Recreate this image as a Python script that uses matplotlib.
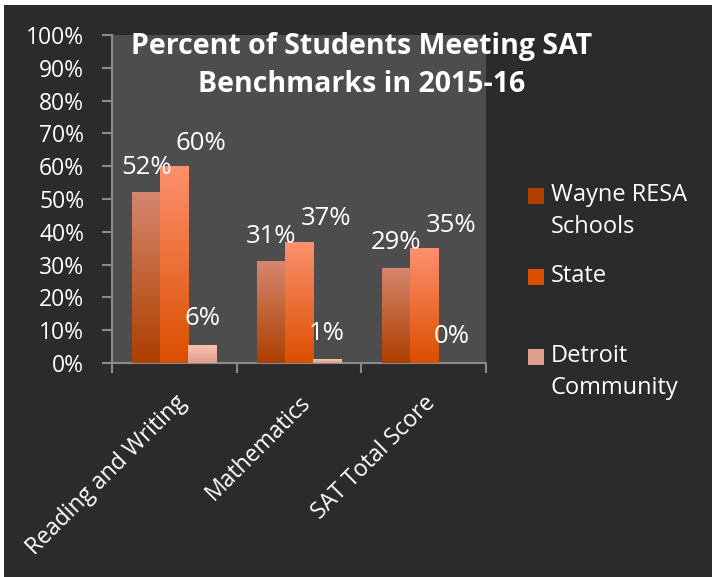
import numpy as np
import matplotlib
matplotlib.use('Agg')
import matplotlib.pyplot as plt
from matplotlib.colors import LinearSegmentedColormap
from matplotlib.patches import Rectangle

plt.rcParams['font.family'] = ['Open Sans', 'DejaVu Sans']

# data
categories = ['Reading and Writing', 'Mathematics', 'SAT Total Score']
series_names = ['Wayne RESA\nSchools', 'State', 'Detroit\nCommunity']
wayne = [52, 31, 29]
state = [60, 37, 35]
detroit = [5.5, 1.2, 0]
detroit_labels = ['6%', '1%', '0%']
yticks = list(range(0, 101, 10))

# gradient colours (top, bottom) for each series
grads = [('#d5866e', '#ae3f00'), ('#fd906e', '#db4f00'), ('#f9c3b3', '#df9e8c')]
label_offsets = [(0, 25), (27, 23), (0, 26)]

fig = plt.figure(figsize=(7.12, 5.77), dpi=100)
fig.patch.set_facecolor('#2b2b2b')
ax = fig.add_axes([0.1573, 0.3709, 0.5253, 0.5684])
ax.set_facecolor('#4d4d4d')

x = np.arange(len(categories))
w = 0.225
all_series = [wayne, state, detroit]
labels_all = [[f'{v}%' for v in wayne], [f'{v}%' for v in state], detroit_labels]

for i, vals in enumerate(all_series):
    pos = x + (i - 1) * w
    bars = ax.bar(pos, vals, width=w, color=grads[i][1], zorder=2)
    cmap = LinearSegmentedColormap.from_list('g%d' % i, [grads[i][1], grads[i][0]])
    for b in bars:
        bx, by, bw, bh = b.get_x(), b.get_y(), b.get_width(), b.get_height()
        if bh <= 0:
            continue
        grad = np.linspace(0, 1, 100).reshape(-1, 1)
        im = ax.imshow(grad, cmap=cmap, origin='lower', aspect='auto',
                       extent=(bx, bx + bw, by, by + bh), zorder=3)
        im.set_clip_path(b)
    for p, v, lab in zip(pos, vals, labels_all[i]):
        ax.annotate(lab, (p, v), xytext=label_offsets[i], textcoords='offset pixels',
                    ha='center', va='center', color='white', fontsize=18.5, zorder=5)

ax.set_xlim(-0.5, 2.5)
ax.set_ylim(0, 100)
ax.set_yticks(yticks)
ax.set_yticklabels([f'{t}%' for t in yticks])
ax.set_xticks(x)
ax.set_xticklabels(categories, rotation=45, ha='right', rotation_mode='anchor')
ax.set_xticks([-0.5, 0.5, 1.5, 2.5], minor=True)
ax.tick_params(axis='x', which='major', length=0, pad=20, labelsize=16.5, labelcolor='white')
ax.tick_params(axis='x', which='minor', length=7, width=1.5, color='#8a8a8a')
ax.tick_params(axis='y', length=7, width=1.5, color='#8a8a8a', pad=13,
               labelsize=16.5, labelcolor='white')
for s in ['top', 'right']:
    ax.spines[s].set_visible(False)
for s in ['left', 'bottom']:
    ax.spines[s].set_color('#8a8a8a')
    ax.spines[s].set_linewidth(1.5)

# legend (square aligned with first text line)
W, H = 712, 577
leg_y = [196, 277, 357]
for i, name in enumerate(series_names):
    yc = 1 - leg_y[i] / H
    fig.patches.append(Rectangle((528 / W, yc - 8 / H), 16 / W, 16 / H,
                                 transform=fig.transFigure, facecolor=grads[i][1],
                                 edgecolor='none'))
    fig.text(551 / W, yc + 13 / H, name, ha='left', va='top', color='white',
             fontsize=17, linespacing=1.45)

fig.text(0.508, 0.886, 'Percent of Students Meeting SAT\nBenchmarks in 2015-16',
         ha='center', va='center', color='white', fontsize=20.5, fontweight='bold',
         linespacing=1.42)

# thin white border on top and left edges
fig.patches.append(Rectangle((0, 1 - 5 / H), 1, 5 / H, transform=fig.transFigure,
                             facecolor='white', edgecolor='none'))
fig.patches.append(Rectangle((0, 0), 4 / W, 1, transform=fig.transFigure,
                             facecolor='white', edgecolor='none'))

fig.savefig('out.png', dpi=100, facecolor=fig.get_facecolor())
